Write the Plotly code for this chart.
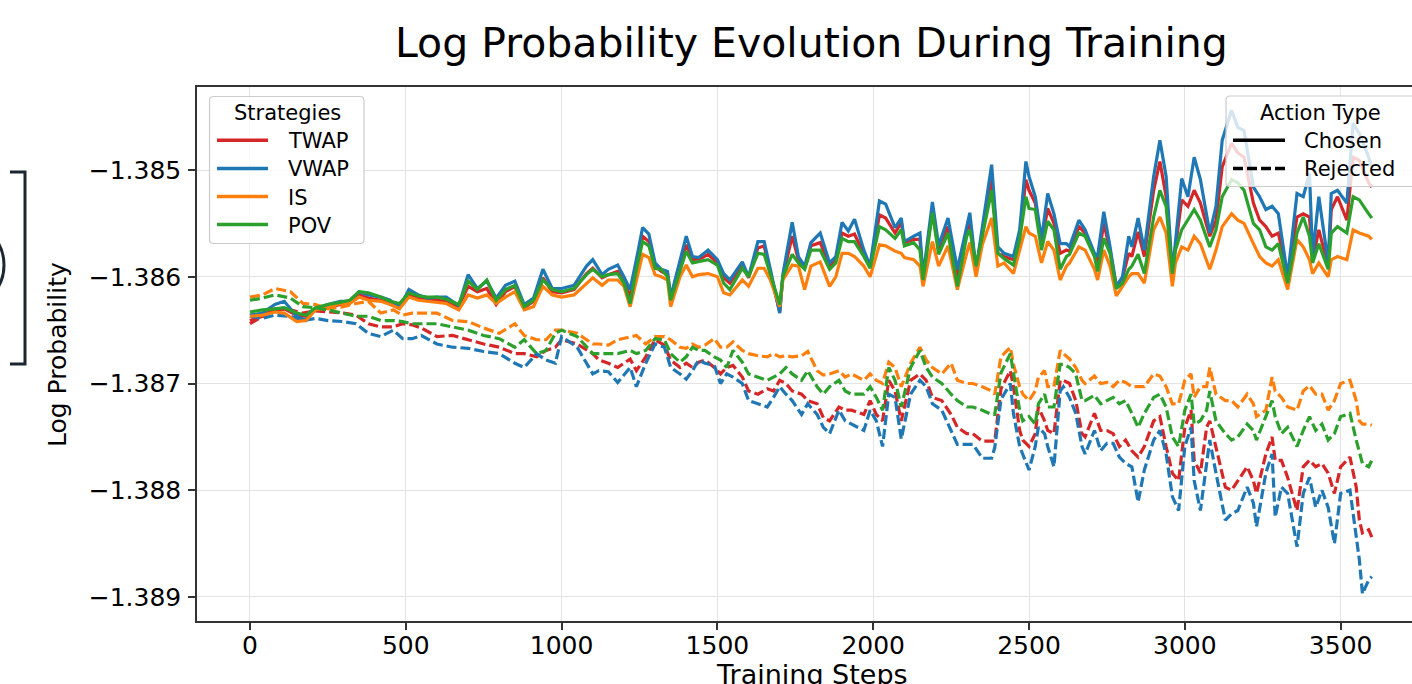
import plotly.graph_objects as go

# ---------------- data ----------------
strategies = ["TWAP", "VWAP", "IS", "POV"]
action_types = ["Chosen", "Rejected"]
x_ticks = [0, 500, 1000, 1500, 2000, 2500, 3000, 3500]
y_ticks = [-1.385, -1.386, -1.387, -1.388, -1.389]
y_tick_labels = ["\u22121.385", "\u22121.386", "\u22121.387", "\u22121.388", "\u22121.389"]

steps_chosen = [
    0, 40, 80, 110, 150, 180, 210, 250, 290, 320,
    350, 380, 420, 450, 480, 510, 540, 570, 600, 630,
    670, 700, 730, 760, 790, 820, 850, 880, 910, 940,
    970, 1000, 1040, 1080, 1100, 1130,
    1150, 1180, 1200, 1220, 1240, 1260, 1280, 1300, 1320, 1340,
    1350, 1380, 1400, 1420, 1440, 1470, 1500, 1520, 1540, 1580,
    1600, 1630, 1650, 1670, 1700, 1710, 1740, 1760, 1780, 1800,
    1830, 1860, 1880, 1900, 1920, 1940, 1970, 1990, 2020, 2040,
    2070, 2090, 2100, 2130, 2150, 2160, 2190, 2210, 2240, 2270,
    2300, 2310, 2330, 2350, 2380,
    2400, 2420, 2450, 2470, 2490, 2500, 2520, 2540, 2560, 2580,
    2600, 2620, 2630, 2660, 2680, 2710, 2720, 2740, 2760, 2780,
    2800, 2820, 2830, 2850, 2870, 2900, 2920, 2940, 2960, 2970,
    2990, 3010, 3030, 3050, 3080, 3100, 3120, 3150, 3170, 3190,
    3220, 3240, 3260, 3280, 3300, 3330, 3360, 3380, 3400, 3410,
    3430, 3460, 3470, 3490, 3520, 3540, 3560, 3590, 3600,
]

vwap_chosen = [
    -1.38636, -1.38634, -1.38626, -1.38623, -1.38637, -1.38641, -1.38630, -1.38626, -1.38623, -1.38623,
    -1.38614, -1.38617, -1.38619, -1.38622, -1.38629, -1.38612, -1.38617, -1.38620, -1.38619, -1.38619,
    -1.38627, -1.38598, -1.38611, -1.38604, -1.38620, -1.38608, -1.38604, -1.38626, -1.38620, -1.38593,
    -1.38611, -1.38611, -1.38608, -1.38590, -1.38584, -1.38598,
    -1.38593, -1.38589, -1.38600, -1.38612, -1.38584, -1.38554, -1.38560, -1.38587, -1.38593, -1.38595,
    -1.38619, -1.38584, -1.38562, -1.38581, -1.38582, -1.38575, -1.38584, -1.38597, -1.38603, -1.38586,
    -1.38600, -1.38567, -1.38567, -1.38593, -1.38634, -1.38598, -1.38549, -1.38581, -1.38590, -1.38568,
    -1.38559, -1.38587, -1.38581, -1.38549, -1.38557, -1.38546, -1.38575, -1.38590, -1.38529, -1.38532,
    -1.38554, -1.38545, -1.38567, -1.38562, -1.38559, -1.38600, -1.38530, -1.38571, -1.38545, -1.38593,
    -1.38553, -1.38540, -1.38593, -1.38553, -1.38495,
    -1.38572, -1.38578, -1.38581, -1.38556, -1.38492, -1.38506, -1.38525, -1.38565, -1.38522, -1.38541,
    -1.38569, -1.38569, -1.38572, -1.38547, -1.38556, -1.38578, -1.38581, -1.38539, -1.38572, -1.38609,
    -1.38600, -1.38562, -1.38572, -1.38545, -1.38575, -1.38506, -1.38472, -1.38506, -1.38597, -1.38569,
    -1.38508, -1.38525, -1.38488, -1.38509, -1.38559, -1.38534, -1.38472, -1.38444, -1.38460, -1.38463,
    -1.38516, -1.38525, -1.38537, -1.38534, -1.38541, -1.38600, -1.38522, -1.38525, -1.38503, -1.38581,
    -1.38525, -1.38587, -1.38522, -1.38519, -1.38531, -1.38456, -1.38466, -1.38488, -1.38497,
]

twap_chosen = [
    -1.38641, -1.38637, -1.38631, -1.38630, -1.38636, -1.38637, -1.38631, -1.38629, -1.38626, -1.38625,
    -1.38617, -1.38620, -1.38622, -1.38625, -1.38626, -1.38617, -1.38620, -1.38622, -1.38622, -1.38623,
    -1.38628, -1.38609, -1.38614, -1.38611, -1.38626, -1.38614, -1.38609, -1.38629, -1.38623, -1.38601,
    -1.38614, -1.38615, -1.38612, -1.38597, -1.38592, -1.38601,
    -1.38598, -1.38595, -1.38603, -1.38619, -1.38590, -1.38562, -1.38567, -1.38590, -1.38595, -1.38598,
    -1.38620, -1.38589, -1.38570, -1.38584, -1.38584, -1.38579, -1.38587, -1.38601, -1.38606, -1.38589,
    -1.38601, -1.38573, -1.38571, -1.38597, -1.38633, -1.38600, -1.38562, -1.38584, -1.38592, -1.38571,
    -1.38568, -1.38590, -1.38584, -1.38559, -1.38562, -1.38560, -1.38578, -1.38591, -1.38542, -1.38545,
    -1.38559, -1.38549, -1.38568, -1.38565, -1.38565, -1.38601, -1.38537, -1.38575, -1.38553, -1.38600,
    -1.38557, -1.38548, -1.38592, -1.38559, -1.38509,
    -1.38578, -1.38581, -1.38584, -1.38562, -1.38509, -1.38519, -1.38531, -1.38569, -1.38536, -1.38550,
    -1.38578, -1.38575, -1.38576, -1.38553, -1.38559, -1.38579, -1.38587, -1.38550, -1.38575, -1.38609,
    -1.38601, -1.38578, -1.38581, -1.38558, -1.38581, -1.38519, -1.38492, -1.38525, -1.38597, -1.38572,
    -1.38528, -1.38534, -1.38519, -1.38531, -1.38562, -1.38547, -1.38497, -1.38475, -1.38484, -1.38488,
    -1.38531, -1.38547, -1.38553, -1.38562, -1.38559, -1.38600, -1.38544, -1.38541, -1.38544, -1.38584,
    -1.38556, -1.38590, -1.38537, -1.38525, -1.38547, -1.38488, -1.38491, -1.38512, -1.38516,
]

pov_chosen = [
    -1.38633, -1.38631, -1.38630, -1.38629, -1.38634, -1.38636, -1.38629, -1.38626, -1.38624, -1.38622,
    -1.38614, -1.38615, -1.38619, -1.38623, -1.38625, -1.38615, -1.38618, -1.38619, -1.38619, -1.38621,
    -1.38626, -1.38604, -1.38612, -1.38603, -1.38622, -1.38612, -1.38608, -1.38628, -1.38622, -1.38603,
    -1.38612, -1.38614, -1.38611, -1.38598, -1.38593, -1.38600,
    -1.38598, -1.38597, -1.38606, -1.38625, -1.38593, -1.38567, -1.38571, -1.38592, -1.38593, -1.38600,
    -1.38622, -1.38593, -1.38576, -1.38587, -1.38586, -1.38584, -1.38589, -1.38606, -1.38612, -1.38592,
    -1.38600, -1.38578, -1.38579, -1.38598, -1.38626, -1.38600, -1.38579, -1.38587, -1.38593, -1.38575,
    -1.38575, -1.38593, -1.38587, -1.38564, -1.38567, -1.38567, -1.38581, -1.38592, -1.38553, -1.38556,
    -1.38564, -1.38556, -1.38571, -1.38568, -1.38575, -1.38603, -1.38540, -1.38579, -1.38559, -1.38609,
    -1.38562, -1.38556, -1.38590, -1.38562, -1.38519,
    -1.38578, -1.38583, -1.38589, -1.38565, -1.38525, -1.38536, -1.38537, -1.38575, -1.38548, -1.38556,
    -1.38593, -1.38581, -1.38579, -1.38559, -1.38562, -1.38581, -1.38595, -1.38564, -1.38578, -1.38611,
    -1.38606, -1.38593, -1.38590, -1.38579, -1.38597, -1.38544, -1.38519, -1.38534, -1.38597, -1.38575,
    -1.38556, -1.38547, -1.38537, -1.38547, -1.38572, -1.38556, -1.38525, -1.38509, -1.38512, -1.38519,
    -1.38550, -1.38556, -1.38572, -1.38575, -1.38569, -1.38606, -1.38559, -1.38544, -1.38562, -1.38587,
    -1.38569, -1.38593, -1.38559, -1.38553, -1.38559, -1.38525, -1.38528, -1.38541, -1.38545,
]

is_chosen = [
    -1.38637, -1.38636, -1.38633, -1.38634, -1.38642, -1.38641, -1.38631, -1.38629, -1.38625, -1.38625,
    -1.38619, -1.38622, -1.38623, -1.38626, -1.38630, -1.38619, -1.38622, -1.38623, -1.38624, -1.38625,
    -1.38631, -1.38617, -1.38620, -1.38617, -1.38625, -1.38619, -1.38614, -1.38631, -1.38628, -1.38609,
    -1.38617, -1.38619, -1.38617, -1.38606, -1.38601, -1.38608,
    -1.38603, -1.38603, -1.38609, -1.38628, -1.38603, -1.38579, -1.38582, -1.38598, -1.38600, -1.38603,
    -1.38628, -1.38600, -1.38589, -1.38600, -1.38598, -1.38597, -1.38600, -1.38615, -1.38617, -1.38603,
    -1.38609, -1.38592, -1.38592, -1.38603, -1.38628, -1.38603, -1.38589, -1.38590, -1.38612, -1.38590,
    -1.38586, -1.38609, -1.38600, -1.38578, -1.38578, -1.38581, -1.38590, -1.38600, -1.38570, -1.38571,
    -1.38576, -1.38578, -1.38582, -1.38584, -1.38590, -1.38609, -1.38567, -1.38590, -1.38571, -1.38612,
    -1.38578, -1.38568, -1.38600, -1.38570, -1.38545,
    -1.38590, -1.38587, -1.38597, -1.38575, -1.38553, -1.38559, -1.38562, -1.38587, -1.38567, -1.38575,
    -1.38603, -1.38590, -1.38587, -1.38572, -1.38575, -1.38593, -1.38603, -1.38575, -1.38590, -1.38618,
    -1.38609, -1.38600, -1.38597, -1.38597, -1.38606, -1.38556, -1.38544, -1.38559, -1.38609, -1.38587,
    -1.38572, -1.38575, -1.38562, -1.38569, -1.38593, -1.38575, -1.38553, -1.38541, -1.38547, -1.38550,
    -1.38569, -1.38581, -1.38587, -1.38590, -1.38584, -1.38612, -1.38565, -1.38572, -1.38584, -1.38597,
    -1.38587, -1.38600, -1.38584, -1.38581, -1.38584, -1.38556, -1.38559, -1.38562, -1.38565,
]

steps_rejected = [
    0, 40, 80, 130, 170, 210, 250, 300, 340, 380,
    420, 460, 490, 520, 550, 600, 650, 700, 750, 800,
    850, 880, 920, 950, 980, 1000, 1050, 1100,
    1120, 1150, 1180, 1220, 1240, 1270, 1300, 1330, 1350, 1380,
    1400, 1420, 1440, 1460, 1490, 1510, 1530, 1550, 1580, 1600,
    1630, 1660, 1680, 1700, 1720, 1740, 1770, 1790, 1820, 1840,
    1860, 1890, 1910, 1930, 1970, 1990, 2010, 2030, 2050, 2070,
    2090, 2120, 2150, 2170, 2190, 2220, 2250, 2270, 2300, 2320,
    2350, 2380, 2390,
    2410, 2440, 2450, 2470, 2480, 2500, 2520, 2530, 2550, 2560,
    2580, 2600, 2610, 2630, 2650, 2670, 2680, 2710, 2730, 2750,
    2770, 2790, 2810, 2830, 2850, 2870, 2900, 2920, 2940, 2960,
    2980, 3000, 3020, 3030, 3050, 3070, 3080, 3100, 3130, 3150,
    3170, 3200, 3220, 3230, 3260, 3280, 3290, 3310, 3330, 3360,
    3380, 3400, 3420, 3440, 3460, 3480, 3500, 3530, 3550, 3560,
    3570, 3590, 3600,
]

is_rejected = [
    -1.38619, -1.38617, -1.38611, -1.38614, -1.38625, -1.38626, -1.38630, -1.38628, -1.38625, -1.38623,
    -1.38634, -1.38631, -1.38636, -1.38634, -1.38634, -1.38634, -1.38641, -1.38642, -1.38648, -1.38653,
    -1.38644, -1.38655, -1.38659, -1.38659, -1.38650, -1.38650, -1.38653, -1.38663,
    -1.38663, -1.38664, -1.38659, -1.38656, -1.38655, -1.38663, -1.38656, -1.38656, -1.38659, -1.38666,
    -1.38667, -1.38663, -1.38666, -1.38664, -1.38658, -1.38666, -1.38666, -1.38661, -1.38669, -1.38672,
    -1.38674, -1.38675, -1.38672, -1.38675, -1.38674, -1.38675, -1.38674, -1.38670, -1.38688, -1.38692,
    -1.38691, -1.38688, -1.38694, -1.38691, -1.38697, -1.38691, -1.38697, -1.38700, -1.38680, -1.38685,
    -1.38703, -1.38681, -1.38666, -1.38678, -1.38685, -1.38691, -1.38681, -1.38697, -1.38700, -1.38700,
    -1.38703, -1.38707, -1.38710,
    -1.38675, -1.38666, -1.38682, -1.38703, -1.38710, -1.38716, -1.38707, -1.38694, -1.38688, -1.38703,
    -1.38703, -1.38669, -1.38672, -1.38677, -1.38685, -1.38697, -1.38700, -1.38693, -1.38700, -1.38699,
    -1.38703, -1.38697, -1.38699, -1.38703, -1.38703, -1.38703, -1.38691, -1.38693, -1.38703, -1.38719,
    -1.38719, -1.38697, -1.38691, -1.38713, -1.38703, -1.38703, -1.38685, -1.38710, -1.38716, -1.38716,
    -1.38722, -1.38710, -1.38719, -1.38731, -1.38725, -1.38694, -1.38707, -1.38713, -1.38722, -1.38725,
    -1.38707, -1.38702, -1.38710, -1.38710, -1.38725, -1.38716, -1.38700, -1.38697, -1.38716, -1.38735,
    -1.38738, -1.38738, -1.38739,
]

pov_rejected = [
    -1.38622, -1.38620, -1.38617, -1.38620, -1.38628, -1.38629, -1.38631, -1.38634, -1.38637, -1.38637,
    -1.38641, -1.38641, -1.38642, -1.38644, -1.38644, -1.38644, -1.38647, -1.38650, -1.38655, -1.38658,
    -1.38666, -1.38659, -1.38672, -1.38669, -1.38653, -1.38650, -1.38656, -1.38672,
    -1.38672, -1.38672, -1.38672, -1.38669, -1.38672, -1.38669, -1.38658, -1.38659, -1.38672, -1.38680,
    -1.38675, -1.38666, -1.38669, -1.38669, -1.38675, -1.38678, -1.38685, -1.38669, -1.38680, -1.38691,
    -1.38694, -1.38697, -1.38694, -1.38691, -1.38685, -1.38691, -1.38697, -1.38688, -1.38703, -1.38710,
    -1.38703, -1.38697, -1.38707, -1.38710, -1.38710, -1.38703, -1.38713, -1.38725, -1.38685, -1.38697,
    -1.38722, -1.38685, -1.38669, -1.38685, -1.38694, -1.38700, -1.38710, -1.38716, -1.38722, -1.38722,
    -1.38725, -1.38729, -1.38729,
    -1.38690, -1.38672, -1.38691, -1.38725, -1.38735, -1.38731, -1.38738, -1.38719, -1.38710, -1.38722,
    -1.38722, -1.38682, -1.38682, -1.38685, -1.38691, -1.38716, -1.38716, -1.38711, -1.38719, -1.38716,
    -1.38713, -1.38719, -1.38716, -1.38728, -1.38741, -1.38728, -1.38713, -1.38710, -1.38722, -1.38750,
    -1.38759, -1.38725, -1.38710, -1.38738, -1.38735, -1.38725, -1.38707, -1.38735, -1.38747, -1.38753,
    -1.38750, -1.38738, -1.38744, -1.38753, -1.38731, -1.38716, -1.38731, -1.38747, -1.38741, -1.38759,
    -1.38744, -1.38731, -1.38744, -1.38738, -1.38753, -1.38747, -1.38731, -1.38728, -1.38753, -1.38763,
    -1.38775, -1.38778, -1.38772,
]

twap_rejected = [
    -1.38644, -1.38637, -1.38630, -1.38631, -1.38634, -1.38632, -1.38633, -1.38634, -1.38636, -1.38644,
    -1.38647, -1.38647, -1.38644, -1.38645, -1.38648, -1.38656, -1.38655, -1.38659, -1.38663, -1.38666,
    -1.38672, -1.38672, -1.38675, -1.38669, -1.38666, -1.38659, -1.38663, -1.38672,
    -1.38678, -1.38681, -1.38685, -1.38677, -1.38688, -1.38675, -1.38659, -1.38664, -1.38678, -1.38685,
    -1.38681, -1.38685, -1.38680, -1.38678, -1.38685, -1.38691, -1.38685, -1.38683, -1.38694, -1.38707,
    -1.38710, -1.38705, -1.38707, -1.38697, -1.38700, -1.38707, -1.38710, -1.38716, -1.38719, -1.38732,
    -1.38735, -1.38722, -1.38725, -1.38725, -1.38729, -1.38716, -1.38729, -1.38735, -1.38697, -1.38707,
    -1.38735, -1.38697, -1.38691, -1.38697, -1.38713, -1.38716, -1.38729, -1.38741, -1.38747, -1.38747,
    -1.38754, -1.38754, -1.38754,
    -1.38705, -1.38688, -1.38703, -1.38744, -1.38753, -1.38759, -1.38747, -1.38722, -1.38735, -1.38744,
    -1.38747, -1.38697, -1.38697, -1.38700, -1.38716, -1.38747, -1.38750, -1.38728, -1.38744, -1.38744,
    -1.38747, -1.38759, -1.38753, -1.38763, -1.38769, -1.38759, -1.38735, -1.38731, -1.38759, -1.38784,
    -1.38791, -1.38741, -1.38725, -1.38772, -1.38784, -1.38741, -1.38735, -1.38759, -1.38797, -1.38800,
    -1.38791, -1.38778, -1.38791, -1.38803, -1.38766, -1.38750, -1.38772, -1.38772, -1.38788, -1.38819,
    -1.38778, -1.38772, -1.38778, -1.38775, -1.38784, -1.38803, -1.38778, -1.38769, -1.38797, -1.38828,
    -1.38840, -1.38837, -1.38844,
]

vwap_rejected = [
    -1.38637, -1.38639, -1.38636, -1.38637, -1.38641, -1.38639, -1.38641, -1.38642, -1.38644, -1.38653,
    -1.38656, -1.38650, -1.38658, -1.38658, -1.38655, -1.38663, -1.38666, -1.38667, -1.38670, -1.38672,
    -1.38681, -1.38685, -1.38672, -1.38678, -1.38681, -1.38656, -1.38666, -1.38691,
    -1.38688, -1.38689, -1.38699, -1.38685, -1.38703, -1.38681, -1.38663, -1.38666, -1.38685, -1.38691,
    -1.38696, -1.38688, -1.38678, -1.38681, -1.38683, -1.38700, -1.38691, -1.38694, -1.38700, -1.38716,
    -1.38719, -1.38722, -1.38713, -1.38703, -1.38710, -1.38716, -1.38729, -1.38719, -1.38729, -1.38741,
    -1.38747, -1.38725, -1.38735, -1.38738, -1.38744, -1.38725, -1.38735, -1.38759, -1.38710, -1.38713,
    -1.38752, -1.38710, -1.38697, -1.38703, -1.38719, -1.38725, -1.38744, -1.38757, -1.38757, -1.38757,
    -1.38770, -1.38770, -1.38760,
    -1.38715, -1.38700, -1.38728, -1.38759, -1.38766, -1.38781, -1.38759, -1.38741, -1.38747, -1.38759,
    -1.38778, -1.38707, -1.38703, -1.38713, -1.38728, -1.38759, -1.38766, -1.38744, -1.38763, -1.38756,
    -1.38756, -1.38769, -1.38775, -1.38778, -1.38811, -1.38781, -1.38753, -1.38744, -1.38766, -1.38806,
    -1.38819, -1.38759, -1.38741, -1.38791, -1.38819, -1.38778, -1.38753, -1.38784, -1.38828, -1.38822,
    -1.38819, -1.38797, -1.38812, -1.38834, -1.38784, -1.38766, -1.38825, -1.38797, -1.38803, -1.38853,
    -1.38803, -1.38788, -1.38816, -1.38800, -1.38816, -1.38850, -1.38803, -1.38800, -1.38840, -1.38865,
    -1.38897, -1.38884, -1.38881,
]

# ---------------- styling ----------------
colors = {"TWAP": "#d62728", "VWAP": "#1f77b4", "IS": "#ff7f0e", "POV": "#2ca02c"}
chosen = {"TWAP": twap_chosen, "VWAP": vwap_chosen, "IS": is_chosen, "POV": pov_chosen}
rejected = {"TWAP": twap_rejected, "VWAP": vwap_rejected, "IS": is_rejected, "POV": pov_rejected}

for name in strategies:
    if len(chosen[name]) != len(steps_chosen):
        raise ValueError(f"{name} chosen length {len(chosen[name])} != {len(steps_chosen)}")
    if len(rejected[name]) != len(steps_rejected):
        raise ValueError(f"{name} rejected length {len(rejected[name])} != {len(steps_rejected)}")

FONT = "DejaVu Sans"
W, H = 1412, 684
PL, PR, PT, PB = 197, 1412, 87, 621
LW = 3.2
DASH = "10px,4px"


def fx(X):
    return (X - PL) / (PR - PL)


def fy(Y):
    return (PB - Y) / (PB - PT)


fig = go.Figure()
for name in strategies:
    fig.add_trace(go.Scatter(
        x=steps_chosen, y=chosen[name], mode="lines", name=f"{name} Chosen",
        line=dict(color=colors[name], width=LW), showlegend=False))
    fig.add_trace(go.Scatter(
        x=steps_rejected, y=rejected[name], mode="lines", name=f"{name} Rejected",
        line=dict(color=colors[name], width=LW, dash=DASH), showlegend=False))

shapes = []
annotations = []


def rounded_rect(x0, y0, x1, y1, r=4):
    ax0, ax1 = fx(x0), fx(x1)
    ay0, ay1 = fy(y0), fy(y1)
    rx = r / (PR - PL)
    ry = r / (PB - PT)
    return (f"M {ax0+rx},{ay0} L {ax1-rx},{ay0} Q {ax1},{ay0} {ax1},{ay0-ry} "
            f"L {ax1},{ay1+ry} Q {ax1},{ay1} {ax1-rx},{ay1} "
            f"L {ax0+rx},{ay1} Q {ax0},{ay1} {ax0},{ay1+ry} "
            f"L {ax0},{ay0-ry} Q {ax0},{ay0} {ax0+rx},{ay0} Z")


LEG_FONT = 21
# Legend 1: Strategies
shapes.append(dict(type="path", xref="paper", yref="paper", layer="above",
                   path=rounded_rect(209.5, 96.5, 364, 243.5),
                   fillcolor="rgba(255,255,255,0.8)", line=dict(color="#cccccc", width=1.2)))
annotations.append(dict(text="Strategies", x=fx(287), y=fy(113), xref="paper", yref="paper",
                        xanchor="center", yanchor="middle", showarrow=False,
                        font=dict(family=FONT, size=LEG_FONT, color="black")))
for i, name in enumerate(strategies):
    yy = 140.3 + 28.1 * i
    shapes.append(dict(type="line", xref="paper", yref="paper", layer="above",
                       x0=fx(217), x1=fx(268), y0=fy(yy), y1=fy(yy),
                       line=dict(color=colors[name], width=3.5)))
    annotations.append(dict(text=name, x=fx(286), y=fy(yy + 1), xref="paper", yref="paper",
                            xanchor="left", yanchor="middle", showarrow=False,
                            font=dict(family=FONT, size=LEG_FONT, color="black")))

# Legend 2: Action Type
shapes.append(dict(type="path", xref="paper", yref="paper", layer="above",
                   path=rounded_rect(1226, 96, 1440, 186.5),
                   fillcolor="rgba(255,255,255,0.8)", line=dict(color="#cccccc", width=1.2)))
annotations.append(dict(text="Action Type", x=fx(1320.5), y=fy(113), xref="paper", yref="paper",
                        xanchor="center", yanchor="middle", showarrow=False,
                        font=dict(family=FONT, size=LEG_FONT, color="black")))
for i, (lbl, dash) in enumerate(zip(action_types, ["solid", DASH])):
    yy = 140.3 + 28.1 * i
    shapes.append(dict(type="line", xref="paper", yref="paper", layer="above",
                       x0=fx(1233), x1=fx(1285), y0=fy(yy), y1=fy(yy),
                       line=dict(color="black", width=3.5, dash=dash)))
    annotations.append(dict(text=lbl, x=fx(1302), y=fy(yy + 1), xref="paper", yref="paper",
                            xanchor="left", yanchor="middle", showarrow=False,
                            font=dict(family=FONT, size=LEG_FONT, color="black")))

# stray decoration at the left edge of the picture
DECO = "#1c2630"
shapes.append(dict(type="path", xref="paper", yref="paper", layer="above",
                   path=(f"M {fx(10)},{fy(172)} L {fx(25)},{fy(172)} "
                         f"L {fx(25)},{fy(364)} L {fx(10)},{fy(364)}"),
                   line=dict(color=DECO, width=3)))
shapes.append(dict(type="circle", xref="paper", yref="paper", layer="above",
                   x0=fx(-84), x1=fx(4), y0=fy(309), y1=fy(221),
                   line=dict(color=DECO, width=3)))

# titles
annotations.append(dict(text="Log Probability Evolution During Training", x=fx(811.5), y=fy(43),
                        xref="paper", yref="paper", xanchor="center", yanchor="middle",
                        showarrow=False, font=dict(family=FONT, size=41, color="black")))
annotations.append(dict(text="Training Steps", x=fx(812), y=fy(674),
                        xref="paper", yref="paper", xanchor="center", yanchor="middle",
                        showarrow=False, font=dict(family=FONT, size=27, color="black")))
annotations.append(dict(text="Log Probability", x=fx(57), y=fy(355), textangle=-90,
                        xref="paper", yref="paper", xanchor="center", yanchor="middle",
                        showarrow=False, font=dict(family=FONT, size=25, color="black")))

fig.update_layout(
    width=W, height=H,
    margin=dict(l=PL, r=W - PR, t=PT, b=H - PB, pad=0),
    plot_bgcolor="white", paper_bgcolor="white",
    showlegend=False,
    font=dict(family=FONT, color="black"),
    shapes=shapes, annotations=annotations,
    xaxis=dict(range=[-170, 3729], tickmode="array", tickvals=x_ticks,
               ticktext=[str(v) for v in x_ticks],
               ticks="outside", ticklen=7, tickwidth=1.5, tickcolor="#333333",
               showline=True, linecolor="#333333", linewidth=1.5, mirror=True,
               showgrid=True, gridcolor="#e4e4e4", gridwidth=1.2, zeroline=False,
               automargin=False,
               tickfont=dict(family=FONT, size=25, color="black"), ticklabelstandoff=-6),
    yaxis=dict(range=[-1.389225, -1.384222], tickmode="array", tickvals=y_ticks,
               ticktext=y_tick_labels,
               ticks="outside", ticklen=7, tickwidth=1.5, tickcolor="#333333",
               showline=True, linecolor="#333333", linewidth=1.5, mirror=False,
               showgrid=True, gridcolor="#e4e4e4", gridwidth=1.2, zeroline=False,
               automargin=False,
               tickfont=dict(family=FONT, size=25, color="black"), ticklabelstandoff=2),
)

fig.write_html("out.html",
               config={"displayModeBar": False},
               post_script="document.body.style.margin='0';document.body.style.padding='0';")
